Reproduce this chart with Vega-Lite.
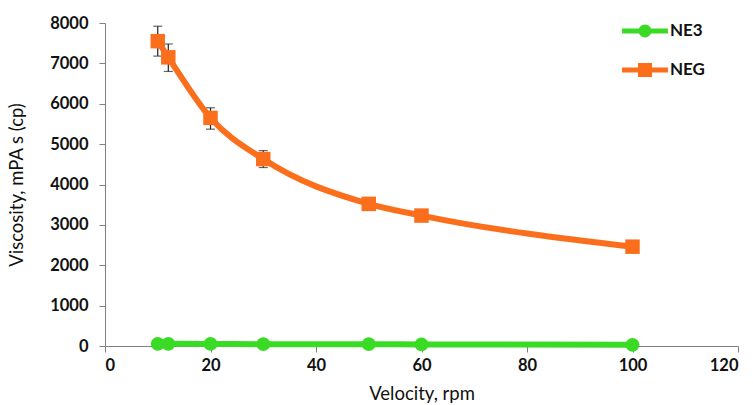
{
  "$schema": "https://vega.github.io/schema/vega-lite/v6.json",
  "width": 633,
  "height": 323,
  "autosize": {"type": "none"},
  "padding": {"left": 105, "top": 23, "right": 15, "bottom": 59},
  "background": "white",
  "config": {
    "view": {"stroke": null},
    "font": "Lato",
    "axis": {
      "grid": false,
      "domainColor": "#808080",
      "tickColor": "#808080",
      "tickSize": 6,
      "labelFont": "Lato",
      "labelFontWeight": "bold",
      "labelFontSize": 16.5,
      "labelColor": "#111111",
      "titleFont": "Lato",
      "titleFontWeight": "normal",
      "titleFontSize": 18.5,
      "titleColor": "#111111"
    }
  },
  "data": {
    "values": [
      {"series": "NE3", "v": 10, "visc": 55},
      {"series": "NE3", "v": 12, "visc": 55},
      {"series": "NE3", "v": 20, "visc": 50},
      {"series": "NE3", "v": 30, "visc": 45},
      {"series": "NE3", "v": 50, "visc": 45},
      {"series": "NE3", "v": 60, "visc": 40},
      {"series": "NE3", "v": 100, "visc": 30},
      {"series": "NEG", "v": 10, "visc": 7550, "lo": 7180, "hi": 7920},
      {"series": "NEG", "v": 12, "visc": 7150, "lo": 6800, "hi": 7480},
      {"series": "NEG", "v": 20, "visc": 5650, "lo": 5370, "hi": 5900},
      {"series": "NEG", "v": 30, "visc": 4630, "lo": 4420, "hi": 4840},
      {"series": "NEG", "v": 50, "visc": 3520},
      {"series": "NEG", "v": 60, "visc": 3230},
      {"series": "NEG", "v": 100, "visc": 2460}
    ]
  },
  "encoding": {
    "x": {
      "field": "v", "type": "quantitative",
      "scale": {"domain": [0, 120], "nice": false},
      "axis": {"values": [0, 20, 40, 60, 80, 100, 120], "title": "Velocity, rpm", "titlePadding": 11, "labelPadding": 5}
    }
  },
  "layer": [
    {
      "transform": [{"filter": "isValid(datum.lo)"}],
      "mark": {"type": "errorbar", "ticks": {"size": 9, "color": "#222222"}, "color": "#222222", "thickness": 1.2},
      "encoding": {
        "y": {"field": "lo", "type": "quantitative", "scale": {"domain": [0, 8000], "nice": false}, "title": "Viscosity, mPA s (cp)"},
        "y2": {"field": "hi"}
      }
    },
    {
      "mark": {"type": "line", "interpolate": "monotone", "strokeWidth": 6, "strokeCap": "round"},
      "encoding": {
        "y": {"field": "visc", "type": "quantitative", "scale": {"domain": [0, 8000], "nice": false},
          "axis": {"values": [0, 1000, 2000, 3000, 4000, 5000, 6000, 7000, 8000], "format": "d", "title": "Viscosity, mPA s (cp)", "titlePadding": 23, "labelPadding": 11}},
        "color": {
          "field": "series", "type": "nominal",
          "scale": {"domain": ["NE3", "NEG"], "range": ["#3ADB24", "#FB6F1C"]},
          "legend": {
            "title": null,
            "orient": "none",
            "legendX": 525,
            "legendY": -7,
            "padding": 0,
            "symbolSize": 900,
            "symbolStrokeWidth": 0,
            "rowPadding": 16,
            "labelOffset": 10,
            "labelFont": "Lato",
            "labelFontWeight": "bold",
            "labelFontSize": 17,
            "labelColor": "#111111",
            "encode": {
              "symbols": {
                "update": {
                  "shape": {"signal": "datum.value === 'NE3' ? 'M-1.53,-0.17H-0.4V0.17H-1.53Z M0.4,-0.17H1.53V0.17H0.4Z M-0.43,0A0.43,0.43,0,1,1,0.43,0A0.43,0.43,0,1,1,-0.43,0Z' : 'M-1.53,-0.17H-0.45V0.17H-1.53Z M0.45,-0.17H1.53V0.17H0.45Z M-0.47,-0.47H0.47V0.47H-0.47Z'"},
                  "fill": {"signal": "datum.value === 'NE3' ? '#3ADB24' : '#FB6F1C'"},
                  "strokeWidth": {"value": 0},
                  "opacity": {"value": 1}
                }
              }
            }
          }
        }
      }
    },
    {
      "transform": [{"filter": "datum.series === 'NE3'"}],
      "mark": {"type": "point", "shape": "circle", "filled": true, "opacity": 1, "size": 190},
      "encoding": {
        "y": {"field": "visc", "type": "quantitative"},
        "color": {"field": "series", "type": "nominal"}
      }
    },
    {
      "transform": [{"filter": "datum.series === 'NEG'"}],
      "mark": {"type": "point", "shape": "square", "filled": true, "opacity": 1, "size": 210},
      "encoding": {
        "y": {"field": "visc", "type": "quantitative"},
        "color": {"field": "series", "type": "nominal"}
      }
    }
  ]
}
